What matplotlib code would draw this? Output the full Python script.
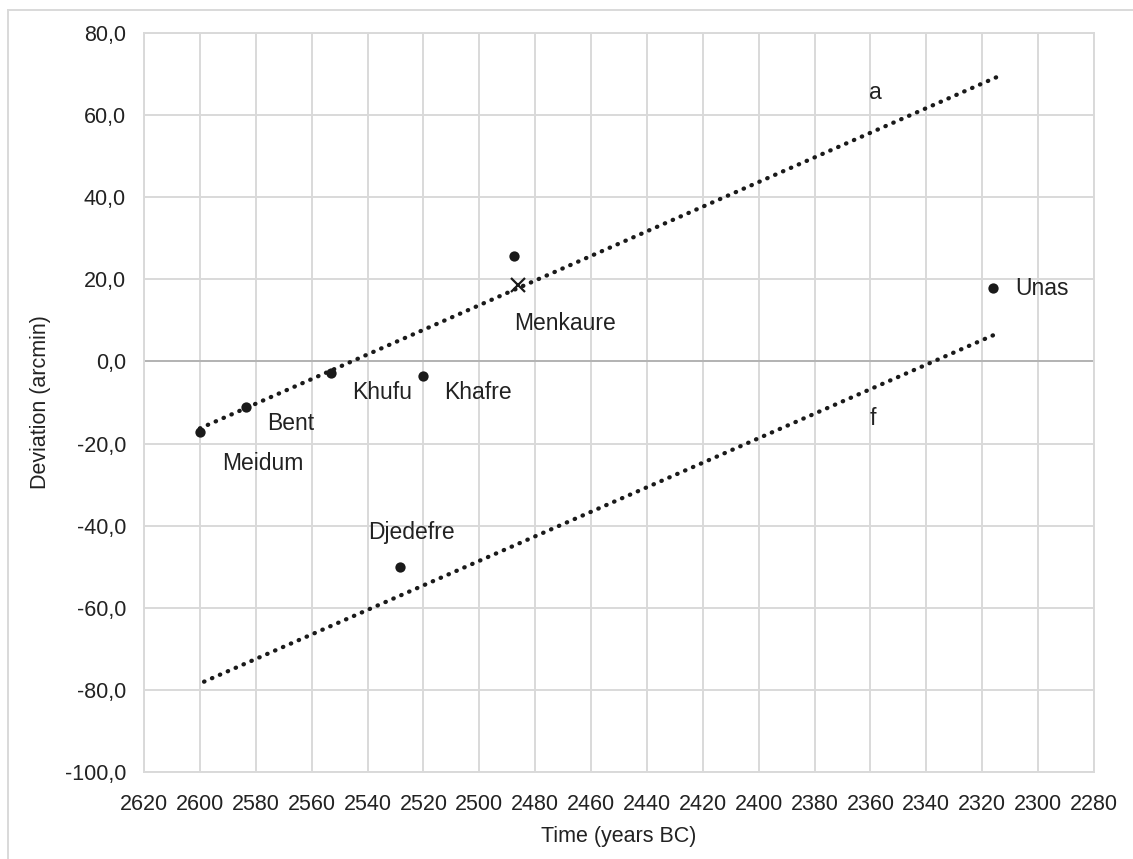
import matplotlib
matplotlib.use("Agg")
import matplotlib.pyplot as plt
from matplotlib.ticker import FuncFormatter
from matplotlib.lines import Line2D

plt.rcParams['font.family'] = ['Liberation Sans', 'DejaVu Sans']

# Data
pyramids = ["Meidum", "Bent", "Khufu", "Khafre", "Djedefre", "Menkaure", "Unas"]
years = [2600, 2583.5, 2553, 2520, 2528.5, 2487.5, 2316]
deviation = [-17.3, -11.0, -2.9, -3.5, -50.0, 25.7, 17.9]

menkaure_x_year = [2486]
menkaure_x_dev = [18.6]

line_a_years = [2600, 2315]
line_a_dev = [-16.3, 69.2]
line_f_years = [2598.5, 2315]
line_f_dev = [-78.0, 6.7]

x_ticks = list(range(2620, 2279, -20))
y_ticks = list(range(-100, 81, 20))

# label offsets in pixels (dx right, dy up) relative to point
label_offsets = {
    "Meidum": (22, -31), "Bent": (21, -17), "Khufu": (21, -19), "Khafre": (21, -17),
    "Djedefre": (-32, 34), "Unas": (22, -1),
}

TXT = '#222222'
GRID = '#d9d9d9'
FS = 15.5
FS_LBL = 16.5

fig = plt.figure(figsize=(11.33, 8.59), dpi=100)
ax = fig.add_axes([144/1133, 1-772/859, (1094-144)/1133, (772-33)/859])

ax.set_xlim(2620, 2280)
ax.set_ylim(-100, 80)
ax.set_xticks(x_ticks)
ax.set_yticks(y_ticks)
ax.yaxis.set_major_formatter(FuncFormatter(lambda v, p: f"{v:.1f}".replace('.', ',')))
ax.grid(True, color=GRID, lw=1.4, zorder=0)
ax.set_axisbelow(True)
for s in ax.spines.values():
    s.set_color(GRID)
    s.set_linewidth(1.4)
ax.axhline(0, color='#b3b3b3', lw=1.4, zorder=1)
ax.tick_params(length=0, labelsize=FS, labelcolor=TXT)
ax.tick_params(axis='y', pad=13)
ax.tick_params(axis='x', pad=16)

ax.set_xlabel("Time (years BC)", fontsize=FS, color=TXT, labelpad=8)
ax.set_ylabel("Deviation (arcmin)", fontsize=FS, color=TXT, labelpad=10)

dot_style = dict(color='#1a1a1a', lw=3.1, dashes=(0.1, 1.9), dash_capstyle='round', zorder=3)
ax.plot(line_a_years, line_a_dev, **dot_style)
ax.plot(line_f_years, line_f_dev, **dot_style)

ax.scatter(years, deviation, s=55, color='#1a1a1a', zorder=4, linewidths=0)
ax.plot(menkaure_x_year, menkaure_x_dev, marker='x', ms=10, mew=1.6, color='#1a1a1a',
        ls='none', zorder=5)

for name, yr, dv in zip(pyramids, years, deviation):
    if name == "Menkaure":
        continue
    dx, dy = label_offsets[name]
    ax.annotate(name, (yr, dv), xytext=(dx*0.72, dy*0.72), textcoords='offset points',
                ha='left', va='center', fontsize=FS_LBL, color=TXT)

ax.annotate("Menkaure", (menkaure_x_year[0], menkaure_x_dev[0]), xytext=(-4*0.72, -38*0.72),
            textcoords='offset points', ha='left', va='center', fontsize=FS_LBL, color=TXT)

ax.text(2360.5, 65.4, "a", ha='left', va='center', fontsize=FS_LBL, color=TXT)
ax.text(2360.2, -13.8, "f", ha='left', va='center', fontsize=FS_LBL, color=TXT)

# chart frame (left and top edges)
fig.add_artist(Line2D([8/1133, 8/1133], [0, 1-10/859], color=GRID, lw=1.4, transform=fig.transFigure))
fig.add_artist(Line2D([8/1133, 1], [1-10/859, 1-10/859], color=GRID, lw=1.4, transform=fig.transFigure))

fig.savefig("out.png", dpi=100)
